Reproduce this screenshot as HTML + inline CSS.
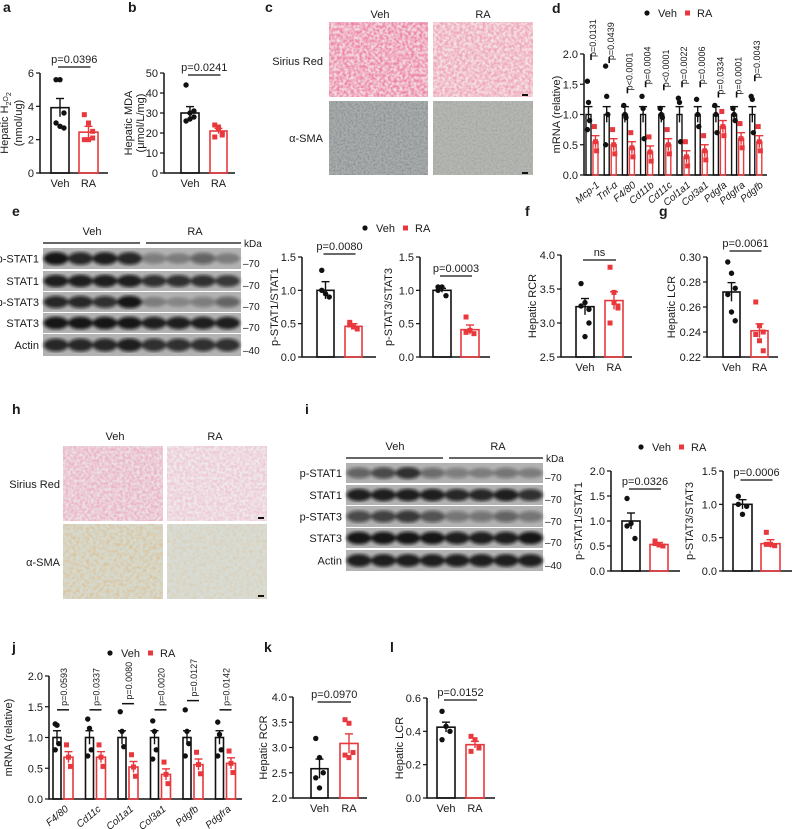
<!DOCTYPE html>
<html><head><meta charset="utf-8"><style>
html,body{margin:0;padding:0;background:#fff}
svg{display:block}
text{font-family:"Liberation Sans",Arial,sans-serif;fill:#1a1a1a}
</style></head><body>
<svg id="s" xmlns="http://www.w3.org/2000/svg" width="792" height="829" viewBox="0 0 792 829">
<defs>
<filter id="tx1" x="0" y="0" width="100%" height="100%"><feTurbulence type="fractalNoise" baseFrequency="0.35" numOctaves="2" seed="3"/><feColorMatrix type="matrix" values="0 0 0 0 0.85  0 0 0 0 0.2  0 0 0 0 0.35  0 0 0 -2.2 1.6"/></filter>
<filter id="tx2" x="0" y="0" width="100%" height="100%"><feTurbulence type="fractalNoise" baseFrequency="0.5" numOctaves="2" seed="7"/><feColorMatrix type="matrix" values="0 0 0 0 0.2  0 0 0 0 0.22  0 0 0 0 0.25  0 0 0 -2 1.3"/></filter>
<filter id="tx3" x="0" y="0" width="100%" height="100%"><feTurbulence type="fractalNoise" baseFrequency="0.3" numOctaves="2" seed="11"/><feColorMatrix type="matrix" values="0 0 0 0 0.75  0 0 0 0 0.45  0 0 0 0 0.2  0 0 0 -2.5 1.5"/></filter>
<filter id="bl"><feGaussianBlur stdDeviation="1.6"/></filter>
</defs>
</svg>
<script>
const S=document.getElementById('s');const NS='http://www.w3.org/2000/svg';
function el(t,a,p){const e=document.createElementNS(NS,t);for(const k in a)e.setAttribute(k,a[k]);(p||S).appendChild(e);return e}
function tx(x,y,s,o){o=o||{};const e=el('text',Object.assign({x:x,y:y,'font-size':o.fs||11,'text-anchor':o.a||'start'},o.tr?{transform:o.tr}:{}));e.textContent=s;if(o.b)e.setAttribute('font-weight','bold');if(o.it)e.setAttribute('font-style','italic');return e}
function ln(x1,y1,x2,y2,c,w){el('line',{x1,y1,x2,y2,stroke:c||'#111','stroke-width':w||1.5})}
const RED='#e8383d';
function lbl(x,y,s){tx(x,y,s,{fs:14,b:1})}
function chart(o){const {ax,y0,y1,vmin,vmax,xend}=o;const sc=v=>y1-(v-vmin)/(vmax-vmin)*(y1-y0);
 ln(ax,y0,ax,y1+0.7);ln(ax,y1,xend,y1);
 o.ticks.forEach(t=>{const y=sc(t);ln(ax-4,y,ax,y,'#111',1.2);tx(ax-6,y+4,o.fmt?o.fmt(t):String(t),{a:'end',fs:o.tfs||11})});
 o.bars.forEach(b=>{const c=b.red?RED:'#111';const yt=sc(b.m);
  el('rect',{x:b.x,y:yt,width:b.w,height:y1-yt,fill:'none',stroke:c,'stroke-width':b.sw||1.6});
  const cx=b.x+b.w/2;
  b.pts.forEach((v,i)=>{const px=cx+((i%3)-1)*(b.w*0.22);const py=sc(v);
   if(b.red)el('rect',{x:px-2.5,y:py-2.5,width:5,height:5,fill:RED});else el('circle',{cx:px,cy:py,r:2.7,fill:'#111'})});
  const ye=sc(b.m+b.e),yl=sc(b.m-b.e);ln(cx,ye,cx,yl,c,1.4);ln(cx-4,ye,cx+4,ye,c,1.4);
 });
 if(o.xl){o.xl.forEach((s,i)=>tx(o.bars[i].x+o.bars[i].w/2,y1+14,s,{a:'middle',fs:11}))}
 if(o.p){const a=o.bars[0],b=o.bars[1];const yy=o.py;ln(a.x+a.w/2-2,yy,b.x+b.w/2+2,yy,'#111',1.3);tx((a.x+a.w/2+b.x+b.w/2)/2,yy-4,o.p,{a:'middle',fs:o.pfs||11})}
 if(o.yl){o.yl.forEach((s,i)=>{const xx=o.ylx+i*12;tx(xx,(y0+y1)/2,s,{a:'middle',fs:11,tr:`rotate(-90 ${xx} ${(y0+y1)/2})`})})}
 return sc;}
function legend(x,y){el('circle',{cx:x,cy:y-4,r:2.6,fill:'#111'});tx(x+11,y,'Veh');el('rect',{x:x+38,y:y-6.5,width:5,height:5,fill:RED});tx(x+50,y,'RA')}
// a
lbl(3,12,'a');
chart({ax:40,y0:73,y1:173,vmin:0,vmax:6,xend:108,ticks:[0,2,4,6],
 bars:[{x:51,w:18,m:3.92,e:0.55,pts:[5.6,5.6,3.6,3.0,2.8,2.7]},{x:79,w:19,m:2.45,e:0.35,red:1,pts:[3.5,3.0,2.5,2.0,2.0,2.1]}],
 xl:['Veh','RA'],p:'p=0.0396',py:67});
(function(){const t=el('text',{x:8,y:123,'font-size':11,'text-anchor':'middle',transform:'rotate(-90 8 123)'});
 const a=(s,sub)=>{const sp=el('tspan',sub?{'font-size':7,dy:sub}:{},t);sp.textContent=s;};
 a('Hepatic H');a('2',3);a('O',-3);a('2',3);
 tx(22,123,'(nmol/ug)',{a:'middle',tr:'rotate(-90 22 123)'});})();
// b
lbl(128,12,'b');
chart({ax:164,y0:73,y1:173,vmin:0,vmax:50,xend:235,ticks:[0,10,20,30,40,50],
 bars:[{x:181,w:18,m:30,e:3.2,pts:[44,30,28,26,27,31]},{x:210,w:17,m:21,e:1.3,red:1,pts:[24,22,20,18,23,19]}],
 xl:['Veh','RA'],p:'p=0.0241',py:75,ylx:132,yl:['Hepatic MDA','(μmol/L/mg)']});
// c
lbl(265,12,'c');
tx(380,18,'Veh',{a:'middle'});tx(483,18,'RA',{a:'middle'});
tx(323,65,'Sirius Red',{a:'end'});tx(323,142,'α-SMA',{a:'end'});
function img(x,y,w,h,base,f,op){el('rect',{x,y,width:w,height:h,fill:base});el('rect',{x,y,width:w,height:h,filter:`url(#${f})`,opacity:op})}
img(329,22,99,75,'#f3dde2','tx1',0.9);img(433,22,100,75,'#f4e3e4','tx1',0.6);
img(329,101,99,74,'#a9adab','tx2',0.7);img(433,101,100,74,'#b6b8b2','tx2',0.35);
ln(522,95,528,95,'#111',2);ln(522,173,528,173,'#111',2);
// d
lbl(552,13,'d');legend(647,17);
(function(){const genes=['Mcp-1','Tnf-α','F4/80','Cd11b','Cd11c','Col1a1','Col3a1','Pdgfa','Pdgfra','Pdgfb'];
const ps=['p=0.0131','p=0.0439','p<0.0001','p=0.0004','p<0.0001','p=0.0022','p=0.0006','p=0.0334','p=0.0001','p=0.0043'];
const vp=[[1.55,1.2,0.9,0.75],[1.8,1.3,1.0,0.5],[1.15,1.0,0.95],[1.3,1.1,0.6],[1.1,1.0,0.95],[1.27,1.2,0.55],[1.25,1.0,0.8],[1.15,1.0,0.7],[1.1,1.0,0.9],[1.3,1.25,0.7]];
const rm=[0.55,0.5,0.45,0.38,0.5,0.3,0.4,0.8,0.6,0.55];
const bars=[];genes.forEach((g,i)=>{const x=586+i*18.2;bars.push({x:x,w:5,m:1,e:0.13,pts:vp[i],sw:1.4});bars.push({x:x+7,w:5,m:rm[i],e:0.1,red:1,pts:[rm[i]+0.25,rm[i],rm[i]-0.15],sw:1.4})});
chart({ax:584,y0:54,y1:175,vmin:0,vmax:2,xend:767,ticks:[0,0.5,1,1.5,2],fmt:t=>t.toFixed(1),bars:bars,ylx:560,yl:['mRNA (relative)']});
const sc=v=>175-v/2*121;
genes.forEach((g,i)=>{const x=586+i*18.2;const top=[1.9,1.85,1.35,1.45,1.4,1.45,1.45,1.28,1.28,1.55][i];const yy=sc(top);
 ln(x+5,yy,x+5,yy-6,'#111',1.6);tx(x+10,yy-3,ps[i],{fs:9,tr:`rotate(-90 ${x+10} ${yy-3})`});
 tx(x+14,186,g,{fs:10,it:1,a:'end',tr:`rotate(-40 ${x+14} 186)`});});
})();
// blots
function blot(x,y,w,rows,tops,labels,kd,vy){
 ln(x,vy,x+97,vy,'#333',1.5);ln(x+103,vy,x+w,vy,'#333',1.5);
 tx(x+49,vy-8,'Veh',{a:'middle'});tx(x+152,vy-8,'RA',{a:'middle'});tx(x+w+3,vy+4,'kDa',{fs:10});
 rows.forEach((r,i)=>{const [ry,rh]=r;el('rect',{x,y:ry,width:w,height:rh,fill:'#b2b2b2'});
  const g=el('g',{filter:'url(#bl)'});
  for(let k=0;k<8;k++){const inten=tops[i][k];el('ellipse',{cx:x+13+k*24.5,cy:ry+rh/2,rx:12.5,ry:rh*0.22+inten*2,fill:'#111',opacity:inten},g)}
  tx(x-4,ry+rh/2+4,labels[i],{a:'end'});tx(x+w+2,ry+rh-2,'–'+kd[i],{fs:10});});
}
lbl(12,216,'e');
blot(43,248,198,[[248,21],[271,20],[292,20],[313,20],[334,22]],
 [[0.95,0.85,0.9,0.85,0.35,0.3,0.5,0.3],[0.9,0.9,0.9,0.9,0.8,0.8,0.8,0.75],[0.85,0.85,0.8,0.95,0.3,0.25,0.35,0.5],[0.95,0.95,0.95,0.95,0.9,0.9,0.9,0.9],[0.85,0.85,0.85,0.9,0.8,0.8,0.8,0.8]],
 ['p-STAT1','STAT1','p-STAT3','STAT3','Actin'],['70','70','70','70','40'],243);
legend(365,232);
chart({ax:302,y0:257,y1:357,vmin:0,vmax:1.5,xend:376,ticks:[0,0.5,1,1.5],fmt:t=>t.toFixed(1),
 bars:[{x:317,w:17,m:1,e:0.13,pts:[1.3,0.95,0.9,1.0]},{x:345,w:17,m:0.46,e:0.04,red:1,pts:[0.52,0.45,0.42,0.48]}],p:'p=0.0080',py:254,ylx:278,yl:['p-STAT1/STAT1']});
chart({ax:420,y0:257,y1:357,vmin:0,vmax:1.5,xend:490,ticks:[0,0.5,1,1.5],fmt:t=>t.toFixed(1),
 bars:[{x:433,w:18,m:1,e:0.03,pts:[1.05,1.05,0.92,1.0]},{x:461,w:18,m:0.41,e:0.07,red:1,pts:[0.6,0.4,0.35,0.37]}],p:'p=0.0003',py:276,ylx:392,yl:['p-STAT3/STAT3']});
// f
lbl(525,216,'f');
chart({ax:561,y0:255,y1:357,vmin:2.5,vmax:4,xend:632,ticks:[2.5,3,3.5,4],fmt:t=>t.toFixed(1),
 bars:[{x:576,w:18,m:3.24,e:0.12,pts:[3.58,3.3,3.0,3.25,2.8,3.2]},{x:605,w:18,m:3.33,e:0.13,red:1,pts:[3.82,3.45,3.22,3.0,3.3,3.25]}],
 xl:['Veh','RA'],p:'ns',py:260,ylx:536,yl:['Hepatic RCR']});
// g
lbl(659,216,'g');
chart({ax:707,y0:257,y1:357,vmin:0.22,vmax:0.3,xend:778,ticks:[0.22,0.24,0.26,0.28,0.30],fmt:t=>t.toFixed(2),
 bars:[{x:723,w:17,m:0.272,e:0.0075,pts:[0.296,0.287,0.275,0.27,0.256,0.249]},{x:751,w:17,m:0.241,e:0.0055,red:1,pts:[0.264,0.245,0.24,0.238,0.233,0.225]}],
 xl:['Veh','RA'],p:'p=0.0061',py:251,ylx:675,yl:['Hepatic LCR']});
// h
lbl(12,414,'h');
tx(115,440,'Veh',{a:'middle'});tx(215,440,'RA',{a:'middle'});
tx(60,488,'Sirius Red',{a:'end'});tx(60,566,'α-SMA',{a:'end'});
img(63,446,100,75,'#ece2e6','tx1',0.45);img(167,446,100,75,'#efebec','tx1',0.3);
img(63,524,100,75,'#d6d9cc','tx3',0.6);img(167,524,100,75,'#d8dcd4','tx3',0.3);
ln(258,518,264,518,'#111',2);ln(258,596,264,596,'#111',2);
// i
lbl(305,414,'i');
blot(346,463,197,[[463,20],[485,20],[506,21],[528,20],[550,21]],
 [[0.5,0.65,0.8,0.45,0.35,0.3,0.4,0.3],[0.9,0.9,0.9,0.9,0.85,0.85,0.9,0.8],[0.65,0.7,0.75,0.6,0.4,0.4,0.5,0.4],[0.95,0.95,0.95,0.95,0.9,0.9,0.9,0.95],[0.9,0.9,0.9,0.9,0.9,0.9,0.9,0.9]],
 ['p-STAT1','STAT1','p-STAT3','STAT3','Actin'],['70','70','70','70','40'],458);
legend(641,451);
chart({ax:611,y0:471,y1:571,vmin:0,vmax:2,xend:680,ticks:[0,0.5,1,1.5,2],fmt:t=>t.toFixed(1),
 bars:[{x:622,w:18,m:1,e:0.16,pts:[1.45,0.95,0.65,0.9]},{x:650,w:18,m:0.53,e:0.04,red:1,pts:[0.6,0.52,0.5,0.55]}],p:'p=0.0326',py:489,ylx:582,yl:['p-STAT1/STAT1']});
chart({ax:723,y0:471,y1:571,vmin:0,vmax:1.5,xend:792,ticks:[0,0.5,1,1.5],fmt:t=>t.toFixed(1),
 bars:[{x:733,w:19,m:1,e:0.07,pts:[1.12,0.85,0.97,1.0]},{x:761,w:19,m:0.41,e:0.06,red:1,pts:[0.58,0.4,0.38,0.4]}],p:'p=0.0006',py:480,ylx:693,yl:['p-STAT3/STAT3']});
// j
lbl(12,652,'j');legend(110,657);
(function(){const genes=['F4/80','Cd11c','Col1a1','Col3a1','Pdgfb','Pdgfra'];const ps=['p=0.0593','p=0.0337','p=0.0080','p=0.0020','p=0.0127','p=0.0142'];
const rm=[0.68,0.68,0.52,0.4,0.56,0.58];const vp=[[1.22,1.2,0.9,0.8],[1.3,1.15,0.8,0.7],[1.42,1.1,0.85],[1.27,1.1,0.8,0.65],[1.45,1.1,0.9,0.7],[1.25,1.05,0.8,0.7]];
const bars=[];genes.forEach((g,i)=>{const x=53+i*32.5;bars.push({x:x,w:8,m:1,e:0.11,pts:vp[i]});bars.push({x:x+11,w:9,m:rm[i],e:0.09,red:1,pts:[rm[i]+0.2,rm[i],rm[i]-0.15]})});
chart({ax:49,y0:676,y1:799,vmin:0,vmax:2,xend:242,ticks:[0,0.5,1,1.5,2],fmt:t=>t.toFixed(1),bars:bars,ylx:12,yl:['mRNA (relative)']});
const sc=v=>799-v/2*123;
genes.forEach((g,i)=>{const x=53+i*32.5;const top=[1.45,1.45,1.55,1.45,1.6,1.45][i];const yy=sc(top);
 ln(x+4,yy,x+16,yy,'#111',1.5);tx(x+14,yy-4,ps[i],{fs:9,tr:`rotate(-90 ${x+14} ${yy-4})`});
 tx(x+16,810,g,{fs:10,it:1,a:'end',tr:`rotate(-40 ${x+16} 810)`});});
})();
// k
lbl(264,652,'k');
chart({ax:293,y0:697,y1:798,vmin:2,vmax:4,xend:367,ticks:[2,2.5,3,3.5,4],fmt:t=>t.toFixed(1),
 bars:[{x:311,w:17,m:2.58,e:0.19,pts:[3.18,2.8,2.5,2.4,2.2]},{x:340,w:18,m:3.08,e:0.19,red:1,pts:[3.55,3.48,2.9,2.85,2.8]}],
 xl:['Veh','RA'],p:'p=0.0970',py:702,ylx:267,yl:['Hepatic RCR']});
// l
lbl(390,652,'l');
chart({ax:427,y0:698,y1:798,vmin:0,vmax:0.6,xend:495,ticks:[0,0.2,0.4,0.6],fmt:t=>t.toFixed(1),
 bars:[{x:437,w:18,m:0.425,e:0.03,pts:[0.52,0.43,0.4,0.35]},{x:466,w:18,m:0.32,e:0.02,red:1,pts:[0.37,0.35,0.3,0.28]}],
 xl:['Veh','RA'],p:'p=0.0152',py:700,ylx:403,yl:['Hepatic LCR']});
</script>
</body></html>
